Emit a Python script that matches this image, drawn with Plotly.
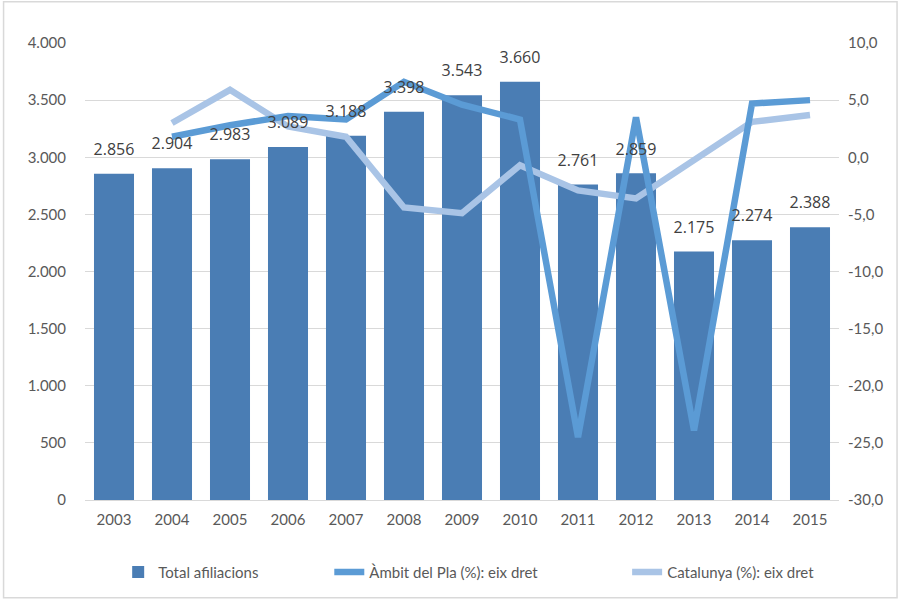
import plotly.graph_objects as go

# Data
years = ["2003", "2004", "2005", "2006", "2007", "2008", "2009",
         "2010", "2011", "2012", "2013", "2014", "2015"]
total_afiliacions = [2856, 2904, 2983, 3089, 3188, 3398, 3543,
                     3660, 2761, 2859, 2175, 2274, 2388]
ambit_pla = [None, 1.8, 2.8, 3.6, 3.3, 6.6, 4.6,
             3.3, -24.5, 3.5, -23.9, 4.7, 5.0]
catalunya = [None, 3.0, 5.9, 2.7, 1.8, -4.4, -4.9,
             -0.7, -2.9, -3.6, -0.2, 3.1, 3.7]

# Right axis ticks (hyphen minus, decimal comma as in the original)
right_tick_vals = [-30, -25, -20, -15, -10, -5, 0, 5, 10]
right_tick_text = ["-30,0", "-25,0", "-20,0", "-15,0", "-10,0",
                   "-5,0", "0,0", "5,0", "10,0"]

TICK_FONT = "Lato, Liberation Sans, sans-serif"
LABEL_FONT = "Open Sans, DejaVu Sans, sans-serif"
TEXT_COLOR = "#595959"

fig = go.Figure()

fig.add_trace(go.Bar(
    x=years, y=total_afiliacions,
    name="Total afiliacions",
    marker=dict(color="#4a7db4", line=dict(width=0)),
    legend="legend",
))

fig.add_trace(go.Scatter(
    x=years, y=catalunya, yaxis="y2",
    mode="lines", name="Catalunya (%): eix dret",
    line=dict(color="#a9c4e6", width=6.5),
    legend="legend3",
))

fig.add_trace(go.Scatter(
    x=years, y=ambit_pla, yaxis="y2",
    mode="lines", name="Àmbit del Pla (%): eix dret",
    line=dict(color="#5b9bd5", width=6.5),
    legend="legend2",
))

# Data labels on a hidden overlay axis so they sit above the lines
fig.add_trace(go.Scatter(
    x=years, y=total_afiliacions, yaxis="y3",
    mode="markers+text", text=[f"{v:,}".replace(",", ".") for v in total_afiliacions],
    textposition="top center",
    marker=dict(size=22, color="rgba(0,0,0,0)"),
    textfont=dict(family=LABEL_FONT, size=16, color="#404040"),
    showlegend=False, hoverinfo="skip",
))

legend_style = dict(
    orientation="h", y=-0.158, yanchor="middle", xanchor="left",
    font=dict(size=15, color=TEXT_COLOR), bgcolor="rgba(0,0,0,0)",
)

fig.update_layout(
    width=900, height=600,
    paper_bgcolor="white", plot_bgcolor="white",
    separators=",.",
    margin=dict(l=85, r=61, t=43, b=100, autoexpand=False),
    bargap=0.31,
    font=dict(family=TICK_FONT, size=15, color=TEXT_COLOR),
    xaxis=dict(
        range=[-0.5, 12.5],
        showgrid=False, showline=True, linecolor="#d9d9d9", linewidth=1,
        ticks="", tickfont=dict(size=15, color=TEXT_COLOR),
        automargin=False, ticklabelstandoff=6,
    ),
    yaxis=dict(
        range=[0, 4000], dtick=500, tickformat=",d",
        showgrid=True, gridcolor="#d9d9d9", gridwidth=1,
        zeroline=False, showline=False, ticks="",
        ticklabelstandoff=18, automargin=False,
    ),
    yaxis2=dict(
        range=[-30, 10], tickmode="array",
        tickvals=right_tick_vals, ticktext=right_tick_text,
        overlaying="y", side="right",
        showgrid=False, zeroline=False, showline=False, ticks="",
        ticklabelstandoff=8, automargin=False,
    ),
    yaxis3=dict(
        range=[0, 4000], overlaying="y", visible=False,
    ),
    legend=dict(x=0.044, **legend_style),
    legend2=dict(x=0.324, **legend_style),
    legend3=dict(x=0.719, **legend_style),
    shapes=[dict(
        type="rect", xref="paper", yref="paper",
        x0=-0.108, x1=1.077, y0=-0.214, y1=1.09,
        line=dict(color="#d9d9d9", width=1.5), layer="below",
    )],
)

fig.write_html("out.html", config={"displayModeBar": False},
               post_script="document.body.style.margin='0';")
